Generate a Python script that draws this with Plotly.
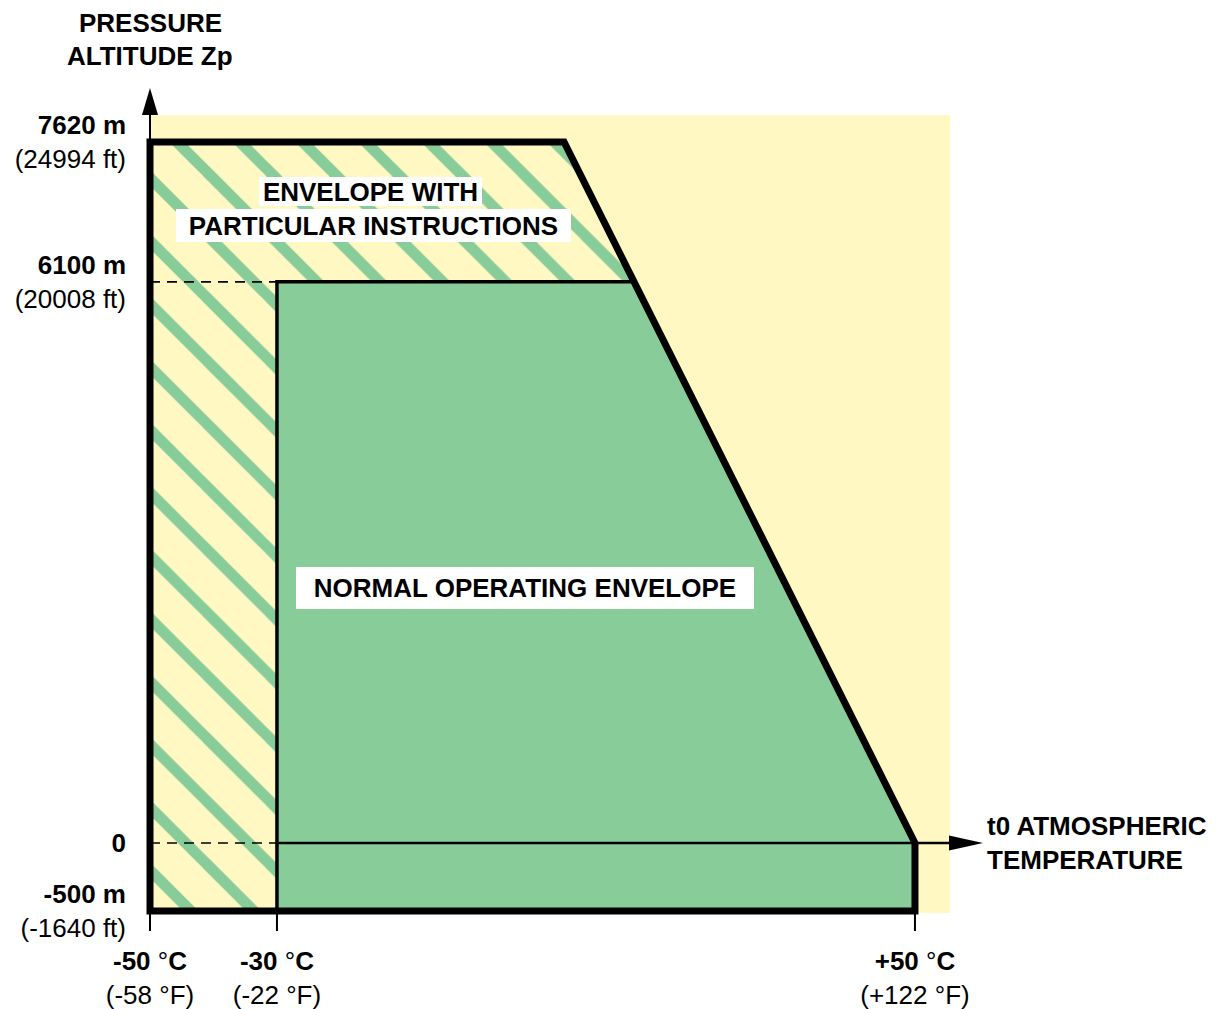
import numpy as np
import plotly.graph_objects as go

# ---------------- data ----------------
temp_ticks_c = [-50, -30, 50]
temp_tick_c_text = ["-50", "-30", "+50"]
temp_tick_f_text = ["-58", "-22", "+122"]

alt_ticks_m = [-500, 0, 6100, 7620]
alt_tick_m_text = ["-500 m", "0", "6100 m", "7620 m"]
alt_tick_ft_text = ["(-1640 ft)", "", "(20008 ft)", "(24994 ft)"]

# envelope with particular instructions (outer limit)
outer_temp = [-50, -50, 6, 50, 50]
outer_alt = [-500, 7620, 7620, 0, -500]

# normal operating envelope
normal_temp = [-30, -30, 14.8, 50, 50]
normal_alt = [-500, 6100, 6100, 0, -500]

# ---------------- schematic (broken) scale of the original diagram ----------------
# the -50..-30 degC span and the -500..0 m span are drawn at their own scale
X_BREAK_T = [-50, -30, 100]
X_BREAK_U = [-45.92, -30, 100]
Y_BREAK_Z = [-500, 0, 10000]
Y_BREAK_U = [-739, 0, 10000]


def sx(t):
    return np.interp(np.asarray(t, dtype=float), X_BREAK_T, X_BREAK_U)


def sy(z):
    return np.interp(np.asarray(z, dtype=float), Y_BREAK_Z, Y_BREAK_U)


# ---------------- layout geometry (page pixels) ----------------
PAGE_OFF = 8                      # default body margin of the html page
W, H = 1220 - PAGE_OFF, 1009 - PAGE_OFF
PLOT_L, PLOT_R, PLOT_T, PLOT_B = 140, 960, 105, 923
XR = [-47.174, 55.647]
YR = [-869.7, 8022.6]

YELLOW = "#FFF8C2"
GREEN = "#88CC9A"
FONT = "Liberation Sans, Arial, Helvetica, sans-serif"
FS = 26


def px_of_u(u):
    return PLOT_L + (u - XR[0]) / (XR[1] - XR[0]) * (PLOT_R - PLOT_L)


def py_of_v(v):
    return PLOT_B - (v - YR[0]) / (YR[1] - YR[0]) * (PLOT_B - PLOT_T)


def xpap(px):
    return (px - PLOT_L) / (PLOT_R - PLOT_L)


def ypap(py):
    return (PLOT_B - py) / (PLOT_B - PLOT_T)


fig = go.Figure()

# hatched envelope with particular instructions
fig.add_trace(go.Scatter(
    x=sx(outer_temp), y=sy(outer_alt), mode="lines", fill="toself",
    fillcolor=YELLOW,
    fillpattern=dict(shape="\\", fgcolor=GREEN, bgcolor=YELLOW, fgopacity=1,
                     fillmode="replace", size=44.5, solidity=0.25),
    line=dict(width=0, color=YELLOW), hoverinfo="skip", showlegend=False))

# normal operating envelope
fig.add_trace(go.Scatter(
    x=sx(normal_temp), y=sy(normal_alt), mode="lines", fill="toself",
    fillcolor=GREEN, line=dict(width=0, color=GREEN),
    hoverinfo="skip", showlegend=False))

# thin black boundary of normal envelope (left + top)
fig.add_trace(go.Scatter(
    x=sx(normal_temp[:3]), y=sy(normal_alt[:3]), mode="lines",
    line=dict(width=3.5, color="black"), hoverinfo="skip", showlegend=False))

# dashed reference lines at 6100 m and 0 m between -50 and -30
for z in [normal_alt[1], 0]:
    fig.add_trace(go.Scatter(
        x=sx([outer_temp[0], normal_temp[0]]), y=sy([z, z]), mode="lines",
        line=dict(width=1.6, color="black", dash="10px,7px"),
        hoverinfo="skip", showlegend=False))

shapes = []
# yellow panel
shapes.append(dict(type="rect", xref="paper", yref="paper", layer="below",
                   x0=xpap(px_of_u(sx(-50))), x1=xpap(950),
                   y0=ypap(913), y1=ypap(115),
                   fillcolor=YELLOW, line=dict(width=0)))

# thick outer envelope outline
ox, oy = sx(outer_temp), sy(outer_alt)
path = "M " + " L ".join(f"{a},{b}" for a, b in zip(ox, oy)) + " Z"
shapes.append(dict(type="path", xref="x", yref="y", path=path, layer="above",
                   line=dict(color="black", width=7)))

# axes with arrows
x0px = px_of_u(sx(-50))
y0px = py_of_v(sy(0))
ybot = py_of_v(sy(-500))
shapes.append(dict(type="line", xref="paper", yref="paper", layer="above",
                   x0=xpap(x0px), x1=xpap(x0px), y0=ypap(ybot), y1=ypap(112),
                   line=dict(color="black", width=2)))
shapes.append(dict(type="path", xref="paper", yref="paper", layer="above",
                   path=f"M {xpap(x0px-8)},{ypap(115)} L {xpap(x0px+8)},{ypap(115)} "
                        f"L {xpap(x0px)},{ypap(88)} Z",
                   fillcolor="black", line=dict(width=0)))
shapes.append(dict(type="line", xref="paper", yref="paper", layer="above",
                   x0=xpap(px_of_u(sx(-30))), x1=xpap(952), y0=ypap(y0px), y1=ypap(y0px),
                   line=dict(color="black", width=2.5)))
shapes.append(dict(type="path", xref="paper", yref="paper", layer="above",
                   path=f"M {xpap(949)},{ypap(y0px-7.5)} L {xpap(949)},{ypap(y0px+7.5)} "
                        f"L {xpap(983)},{ypap(y0px)} Z",
                   fillcolor="black", line=dict(width=0)))
# tick marks under the temperature axis
for t in temp_ticks_c:
    tx = xpap(px_of_u(sx(t)))
    shapes.append(dict(type="line", xref="paper", yref="paper", layer="above",
                       x0=tx, x1=tx, y0=ypap(ybot), y1=ypap(931),
                       line=dict(color="black", width=2)))

x_ticktext = [f"<b>{c} </b>°<b>C</b><br>({f} °F)"
              for c, f in zip(temp_tick_c_text, temp_tick_f_text)]
y_ticktext = [f"<b>{m}</b>" + (f"<br>{ft}" if ft else "")
              for m, ft in zip(alt_tick_m_text, alt_tick_ft_text)]

annotations = [
    dict(text="<b>PRESSURE</b>", xref="paper", yref="paper",
         x=xpap(x0px), y=ypap(23), xanchor="center", yanchor="middle",
         showarrow=False, align="center"),
    dict(text="<b>ALTITUDE Zp</b>", xref="paper", yref="paper",
         x=xpap(x0px), y=ypap(56), xanchor="center", yanchor="middle",
         showarrow=False, align="center"),
    dict(text="<b>t0 ATMOSPHERIC<br>TEMPERATURE</b>", xref="paper", yref="paper",
         x=xpap(985), y=ypap(y0px), xanchor="left", yanchor="middle",
         showarrow=False, align="left"),
    dict(text="<b>ENVELOPE WITH</b>", xref="x", yref="y",
         x=float(sx(-18.3)), y=float(sy(7077)), showarrow=False,
         bgcolor="white", borderpad=0, borderwidth=0, width=223, height=29),
    dict(text="<b>PARTICULAR INSTRUCTIONS</b>", xref="x", yref="y",
         x=float(sx(-17.9)), y=float(sy(6718)), showarrow=False,
         bgcolor="white", borderpad=0, borderwidth=0, width=395, height=33),
    dict(text="<b>NORMAL OPERATING ENVELOPE</b>", xref="x", yref="y",
         x=float(sx(1.1)), y=float(sy(2777)), showarrow=False,
         bgcolor="white", borderpad=0, borderwidth=0, width=458, height=42),
]

fig.update_layout(
    width=W, height=H, autosize=False,
    margin=dict(l=PLOT_L - PAGE_OFF, r=W - (PLOT_R - PAGE_OFF),
                t=PLOT_T - PAGE_OFF, b=H - (PLOT_B - PAGE_OFF), pad=0),
    paper_bgcolor="white", plot_bgcolor="rgba(0,0,0,0)",
    font=dict(family=FONT, size=FS, color="black"),
    showlegend=False,
    shapes=shapes,
    annotations=annotations,
    xaxis=dict(range=XR, showgrid=False, zeroline=False, showline=False,
               automargin=False,
               tickmode="array", tickvals=sx(temp_ticks_c), ticktext=x_ticktext,
               ticks="", ticklabelstandoff=20, fixedrange=True,
               tickfont=dict(family=FONT, size=FS, color="black")),
    yaxis=dict(range=YR, showgrid=False, zeroline=False, showline=False,
               automargin=False,
               tickmode="array", tickvals=sy(alt_ticks_m), ticktext=y_ticktext,
               ticks="", ticklabelstandoff=13, fixedrange=True,
               tickfont=dict(family=FONT, size=FS, color="black")),
)

fig.write_html("out.html")
